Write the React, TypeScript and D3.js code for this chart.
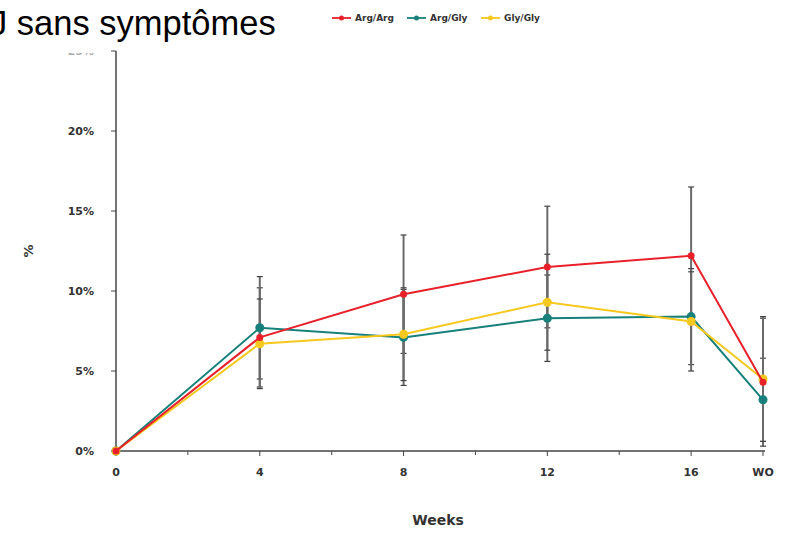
import React from 'react';
import * as d3 from 'd3';

const weeks = [0, 4, 8, 12, 16, 18];
const weekLabels = ['0', '4', '8', '12', '16', 'WO'];
const minorWeeks = [2, 6, 10, 14];
const seriesNames = ['Arg/Arg', 'Arg/Gly', 'Gly/Gly'];
const argArg = [0, 7.1, 9.8, 11.5, 12.2, 4.3];
const argArgErr = [0, 3.1, 3.7, 3.8, 4.3, 4.0];
const argGly = [0, 7.7, 7.1, 8.3, 8.4, 3.2];
const argGlyErr = [0, 3.2, 3.0, 2.7, 3.0, 2.6];
const glyGly = [0, 6.7, 7.3, 9.3, 8.1, 4.5];
const glyGlyErr = [0, 2.8, 2.9, 3.0, 3.1, 3.9];
const yTicks = [0, 5, 10, 15, 20, 25];
const colors = ['#e8202a', '#17807a', '#f7c81e'];

const W = 791, H = 533;

export default function App() {
  const x = d3.scaleLinear().domain([0, 18]).range([116, 763]);
  const y = d3.scaleLinear().domain([0, 25]).range([451, 51]);
  const series = [
    { name: seriesNames[0], vals: argArg, err: argArgErr, color: colors[0] },
    { name: seriesNames[1], vals: argGly, err: argGlyErr, color: colors[1] },
    { name: seriesNames[2], vals: glyGly, err: glyGlyErr, color: colors[2] },
  ];
  const line = d3.line<number>().x((_, i) => x(weeks[i])).y((d) => y(d));
  const drawOrder = [1, 2, 0];
  const tickFont = "'DejaVu Sans', Verdana, sans-serif";
  const legendX = [332, 407, 481];
  return (
    <div style={{ position: 'absolute', left: 0, top: 0 }}>
      <svg width={W} height={H} style={{ display: 'block', background: '#fff' }}>
        <defs>
          <clipPath id="topclip">
            <rect x={0} y={53} width={W} height={H} />
          </clipPath>
        </defs>
        <text x={-10} y={35} fontFamily="'Liberation Sans', Arial, sans-serif" fontSize={34.5} fill="#000">
          J sans symptômes
        </text>
        {/* legend */}
        {series.map((s, i) => (
          <g key={s.name} transform={`translate(${legendX[i]},18)`}>
            <line x1={0} x2={19} y1={0} y2={0} stroke={s.color} strokeWidth={1.8} />
            <circle cx={9.5} cy={0} r={2.5} fill={s.color} />
            <text x={23} y={3.2} fontFamily={tickFont} fontSize={9} fontWeight="bold" fill="#333">
              {s.name}
            </text>
          </g>
        ))}
        {/* y axis */}
        <line x1={116} x2={116} y1={y(25)} y2={y(0)} stroke="#444" strokeWidth={1.5} />
        {yTicks.map((t) => (
          <g key={t}>
            <line x1={111} x2={116} y1={y(t)} y2={y(t)} stroke="#444" strokeWidth={1} />
            <text
              x={94}
              y={y(t) + 4}
              textAnchor="end"
              fontFamily={tickFont}
              fontSize={11}
              fontWeight="bold"
              fill="#333"
              clipPath={t === 25 ? 'url(#topclip)' : undefined}
              opacity={t === 25 ? 0.4 : 1}
            >
              {t}%
            </text>
          </g>
        ))}
        <text
          transform={`translate(33,251) rotate(-90)`}
          textAnchor="middle"
          fontFamily={tickFont}
          fontSize={13}
          fontWeight="bold"
          fill="#333"
        >
          %
        </text>
        {/* x axis */}
        <line x1={116} x2={765} y1={y(0)} y2={y(0)} stroke="#444" strokeWidth={1.5} />
        {weeks.map((w, i) => (
          <g key={w}>
            <line x1={x(w)} x2={x(w)} y1={y(0)} y2={y(0) + 5} stroke="#444" strokeWidth={1} />
            <text
              x={x(w)}
              y={476}
              textAnchor="middle"
              fontFamily={tickFont}
              fontSize={11}
              fontWeight="bold"
              fill="#333"
            >
              {weekLabels[i]}
            </text>
          </g>
        ))}
        {minorWeeks.map((w) => (
          <line key={w} x1={x(w)} x2={x(w)} y1={y(0)} y2={y(0) + 4} stroke="#444" strokeWidth={1} />
        ))}
        <text x={438} y={525} textAnchor="middle" fontFamily={tickFont} fontSize={14} fontWeight="bold" fill="#333">
          Weeks
        </text>
        {/* error bars */}
        {series.map((s) =>
          s.vals.map((v, i) =>
            s.err[i] > 0 ? (
              <g key={s.name + i}>
                <line x1={x(weeks[i])} x2={x(weeks[i])} y1={y(v + s.err[i])} y2={y(v - s.err[i])} stroke="#6a6a6a" strokeWidth={2} />
                <line x1={x(weeks[i]) - 3} x2={x(weeks[i]) + 3} y1={y(v + s.err[i])} y2={y(v + s.err[i])} stroke="#444" strokeWidth={1.2} />
                <line x1={x(weeks[i]) - 3} x2={x(weeks[i]) + 3} y1={y(v - s.err[i])} y2={y(v - s.err[i])} stroke="#444" strokeWidth={1.2} />
              </g>
            ) : null
          )
        )}
        {/* lines */}
        {drawOrder.map((k) => {
          const s = series[k];
          return (
            <g key={s.name}>
              <path d={line(s.vals) || ''} fill="none" stroke={s.color} strokeWidth={2} />
              {s.vals.map((v, i) => (
                <circle key={i} cx={x(weeks[i])} cy={y(v)} r={k === 0 ? 3.5 : 4.5} fill={s.color} />
              ))}
            </g>
          );
        })}
      </svg>
    </div>
  );
}
